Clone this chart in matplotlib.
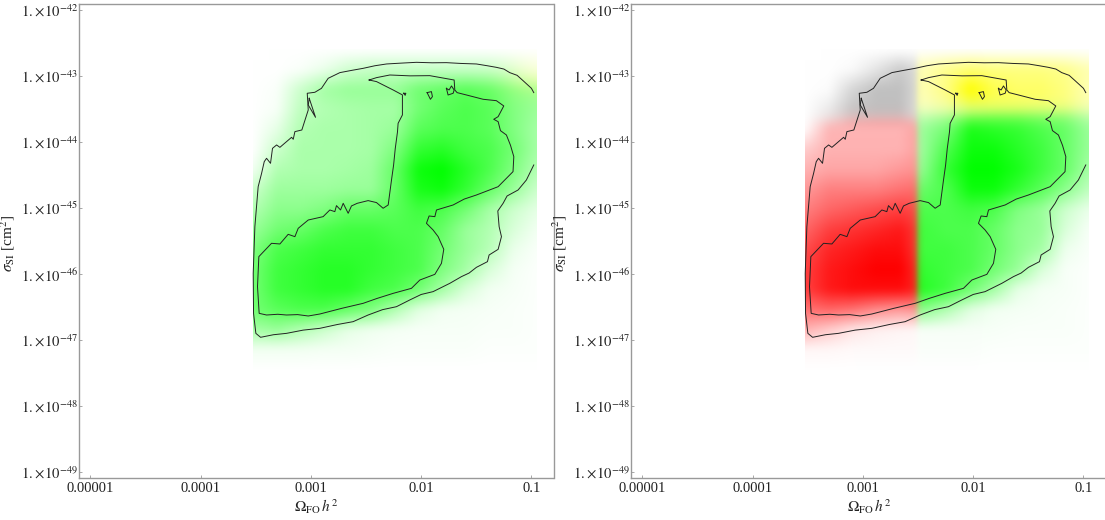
import numpy as np
import matplotlib
matplotlib.use('Agg')
import matplotlib.pyplot as plt

plt.rcParams['font.family'] = ['Liberation Serif', 'DejaVu Serif']
plt.rcParams['mathtext.fontset'] = 'stix'

# everything is in log10 units, the ticks get labelled by hand
x_ticks = [-5, -4, -3, -2, -1]
x_labels = ['0.00001', '0.0001', '0.001', '0.01', '0.1']
y_ticks = [-42, -43, -44, -45, -46, -47, -48, -49]
y_labels = [r'$1.\!\times\!10^{%d}$' % v for v in y_ticks]

# density on a coarse grid, top row first
grid_x = np.linspace(-3.523, -0.955, 13)
grid_y = np.linspace(-42.606, -47.454, 17)

density_left = np.array([
    [0, 0, 0, 0, 0, 0, 0, 0, 0, 0, 0, 0, 0],
    [0, 0, .02, .08, .18, .22, .22, .22, .22, .22, .22, .2, .15],
    [0, .02, .2, .35, .4, .4, .4, .55, .6, .65, .6, .5, .45],
    [0, .03, .25, .3, .33, .35, .35, .55, .65, .7, .65, .5, .4],
    [0, .1, .3, .33, .33, .35, .4, .65, .7, .7, .65, .5, .35],
    [0, .2, .33, .33, .33, .35, .5, .8, .85, .75, .7, .55, .35],
    [.05, .3, .33, .33, .35, .38, .6, .95, 1, .85, .7, .5, .3],
    [.2, .38, .38, .38, .4, .4, .6, .9, .95, .8, .6, .4, .2],
    [.3, .45, .45, .5, .6, .6, .65, .75, .7, .55, .35, .2, .1],
    [.4, .55, .6, .7, .75, .75, .7, .7, .6, .4, .3, .15, .05],
    [.5, .7, .75, .8, .8, .8, .75, .7, .55, .4, .28, .08, .02],
    [.55, .75, .8, .85, .85, .8, .75, .7, .5, .35, .15, .04, .01],
    [.55, .75, .8, .85, .85, .75, .7, .55, .35, .15, .05, .03, .01],
    [.55, .65, .7, .7, .6, .5, .3, .12, .05, .04, .03, .02, .01],
    [.35, .4, .3, .2, .1, .06, .04, .03, .03, .03, .02, .02, .01],
    [.05, .05, .05, .04, .04, .03, .02, .02, .02, .02, .01, .01, .01],
    [0, 0, 0, 0, 0, 0, 0, 0, 0, 0, 0, 0, 0],
])

density_right = np.array([
    [0, 0, 0, 0, 0, 0, 0, 0, 0, 0, 0, 0, 0],
    [0, 0, .05, .25, .5, .3, .45, .55, .5, .5, .5, .45, .3],
    [0, .03, .4, .6, .6, .3, .5, 1, .7, .6, .6, .5, .3],
    [0, .2, .55, .6, .6, .25, .35, .55, .6, .6, .55, .5, .3],
    [.02, .3, .3, .3, .3, .4, .55, .9, .85, .8, .7, .6, .4],
    [.2, .3, .3, .3, .3, .4, .7, .95, .95, .85, .75, .6, .4],
    [.3, .35, .35, .35, .4, .45, .8, 1, 1, .9, .75, .6, .35],
    [.4, .5, .5, .5, .55, .6, .7, .95, .95, .8, .65, .45, .25],
    [.5, .6, .65, .7, .75, .7, .7, .75, .7, .5, .4, .2, .08],
    [.6, .75, .8, .85, .9, .75, .7, .7, .6, .45, .4, .15, .03],
    [.7, .85, .9, .95, .95, .75, .75, .7, .6, .45, .35, .07, .02],
    [.75, .9, .95, 1, 1, .8, .75, .7, .55, .4, .15, .03, .01],
    [.75, .9, .95, .95, .95, .85, .75, .55, .35, .1, .04, .03, .01],
    [.55, .6, .55, .45, .4, .45, .3, .12, .05, .04, .03, .02, .01],
    [.3, .2, .1, .06, .04, .03, .03, .03, .03, .02, .02, .02, .01],
    [.03, .03, .02, .02, .02, .02, .02, .02, .01, .01, .01, .01, .01],
    [0, 0, 0, 0, 0, 0, 0, 0, 0, 0, 0, 0, 0],
])

# where the colours change
split_x = -2.507
split_y_left = -43.68
split_y_right = -43.56
corner_x = -1.15
corner_y = -43.15

red = np.array([1, 0, 0])
green = np.array([0, 1, 0])
yellow = np.array([1, 1, 0])
grey = np.array([.59, .59, .59])

outer_x = [-0.979, -1.046, -1.121, -1.221, -1.257, -1.305, -1.293, -1.272, -1.302, -1.384, -1.399,
           -1.499, -1.565, -1.635, -1.740, -1.892, -2.000, -2.103, -2.224, -2.350, -2.481, -2.617, -2.760, -2.919, -3.070, -3.221, -3.340, -3.456,
           -3.499, -3.520, -3.523, -3.508, -3.478, -3.447, -3.423, -3.402, -3.366, -3.348, -3.311,
           -3.281, -3.175, -3.160, -3.145, -3.082, -3.024, -3.033, -2.964, -2.904, -2.843, -2.737,
           -2.630, -2.526, -2.420, -2.314, -2.180, -2.043, -1.900, -1.771, -1.640, -1.499, -1.400, -1.318, -1.250, -1.197, -1.130, -1.076, -1.000, -0.979]
outer_y = [-44.348, -44.576, -44.727, -44.818, -44.929, -45.045, -45.283, -45.434, -45.626, -45.712, -45.813,
           -45.899, -45.985, -46.040, -46.141, -46.267, -46.310, -46.393, -46.495, -46.540, -46.621, -46.722, -46.765, -46.823, -46.850, -46.899, -46.920, -46.959,
           -46.899, -46.596, -45.990, -45.283, -44.677, -44.475, -44.298, -44.247, -44.323, -44.096, -44.045,
           -44.081, -43.929, -43.959, -43.843, -43.818, -43.515, -43.262, -43.247, -43.187, -43.035, -42.949,
           -42.915, -42.884, -42.845, -42.818, -42.805, -42.793, -42.800, -42.798, -42.810, -42.818, -42.845, -42.869, -42.895, -42.949, -42.990, -43.071, -43.187, -43.252]

inner_x = [-2.472, -2.405, -2.284, -2.100, -1.922, -1.701, -1.695, -1.674, -1.589, -1.438, -1.318, -1.251, -1.302,
           -1.342, -1.302, -1.281, -1.227, -1.190, -1.160, -1.167, -1.302, -1.499, -1.610, -1.710, -1.861, -1.876, -1.928,
           -1.952, -1.892, -1.846, -1.795, -1.816, -1.876, -2.012, -2.088, -2.254, -2.400, -2.526, -2.720, -2.919, -3.024,
           -3.120, -3.221, -3.300, -3.402, -3.469, -3.484, -3.472, -3.357, -3.281, -3.206, -3.145, -3.115, -3.024, -2.889,
           -2.828, -2.783, -2.768, -2.731, -2.707, -2.662, -2.632, -2.580, -2.481, -2.405, -2.345, -2.299,
           -2.269, -2.250, -2.235, -2.215, -2.209, -2.170, -2.170, -2.254, -2.405, -2.472]
inner_y = [-43.061, -43.025, -42.985, -42.998, -42.995, -43.061, -43.212, -43.252, -43.288, -43.353, -43.374, -43.454, -43.616,
           -43.656, -43.692, -43.828, -43.894, -44.050, -44.222, -44.449, -44.677, -44.803, -44.865, -44.954, -45.030, -45.131, -45.121,
           -45.232, -45.333, -45.434, -45.626, -45.838, -46.005, -46.091, -46.217, -46.293, -46.370, -46.444, -46.520, -46.606, -46.636,
           -46.615, -46.621, -46.610, -46.621, -46.596, -46.192, -45.737, -45.535, -45.545, -45.399, -45.434, -45.308, -45.182, -45.131,
           -45.030, -45.055, -44.964, -45.030, -44.929, -45.080, -44.969, -44.929, -44.888, -44.918, -45.004, -44.954,
           -44.576, -44.350, -44.100, -43.850, -43.717, -43.590, -43.287, -43.212, -43.085, -43.061]

sliver_x = [-3.015, -2.958, -3.024, -3.015]
sliver_y = [-43.338, -43.626, -43.439, -43.338]
loop1_x = [-1.946, -1.907, -1.898, -1.916, -1.946]
loop1_y = [-43.252, -43.237, -43.313, -43.353, -43.252]
loop2_x = [-1.771, -1.747, -1.725, -1.701, -1.710, -1.756, -1.771]
loop2_y = [-43.187, -43.212, -43.151, -43.212, -43.262, -43.288, -43.187]
loop3_x = [-2.160, -2.139, -2.145, -2.160]
loop3_y = [-43.262, -43.262, -43.293, -43.262]


def upsample(grid):
    # smooth the coarse table so it looks like the blurred density plot
    fx = np.linspace(grid_x[0], grid_x[-1], 400)
    fy = np.linspace(grid_y[0], grid_y[-1], 400)
    rows = np.array([np.interp(fx, grid_x, r) for r in grid])
    fine = np.array([np.interp(-fy, -grid_y, c) for c in rows.T]).T
    k = np.hanning(25)
    k = k / k.sum()
    for axis in (0, 1):
        pad = [(0, 0), (0, 0)]
        pad[axis] = (12, 12)
        tmp = np.pad(fine, pad, mode='edge')
        fine = np.apply_along_axis(lambda v: np.convolve(v, k, mode='valid'), axis, tmp)
    X, Y = np.meshgrid(fx, fy)
    return fine, X, Y


def step(v, width):
    return (np.tanh(v / width) + 1) / 2


def left_image():
    sat, X, Y = upsample(density_left)
    w = (step(X - corner_x, .2) * step(Y - corner_y, .25))[..., None]
    col = w * yellow + (1 - w) * green
    return 1 - sat[..., None] * (1 - col)


def right_image():
    sat, X, Y = upsample(density_right)
    wx = step(X - split_x, .035)[..., None]
    low = (1 - step(Y - split_y_left, .12))[..., None]
    top = step(Y - split_y_right, .14)[..., None]
    col = (1 - wx) * (low * red + (1 - low) * grey) + wx * (top * yellow + (1 - top) * green)
    return 1 - sat[..., None] * (1 - col)


def draw_panel(ax, img, x_right):
    ax.imshow(np.clip(img, 0, 1), extent=[grid_x[0], grid_x[-1], grid_y[-1], grid_y[0]],
              aspect='auto', interpolation='bilinear', zorder=1)
    for xs, ys in [(outer_x, outer_y), (inner_x, inner_y), (sliver_x, sliver_y),
                   (loop1_x, loop1_y), (loop2_x, loop2_y), (loop3_x, loop3_y)]:
        ax.plot(xs, ys, color='#222222', lw=0.7, zorder=2)
    ax.set_xlim(-5.1, x_right)
    ax.set_ylim(-49.095, -41.914)
    ax.set_xticks(x_ticks)
    ax.set_xticklabels(x_labels)
    ax.set_yticks(y_ticks)
    ax.set_yticklabels(y_labels)
    ax.tick_params(direction='in', length=2, width=0.6, color='#999999', labelsize=10.5,
                   labelcolor='#222222', pad=1)
    ax.tick_params(axis='x', pad=3)
    for s in ax.spines.values():
        s.set_color('#999999')
        s.set_linewidth(1.0)
    ax.set_xlabel(r'$\Omega_{\rm FO}\,h^2$', fontsize=11, labelpad=1, color='#222222')
    ax.set_ylabel(r'$\sigma_{\rm SI}$ [cm$^2$]', fontsize=11, color='#222222')


W, H = 1105, 520
fig = plt.figure(figsize=(W / 100, H / 100), dpi=100)
ax1 = fig.add_axes([79.3 / W, 41.7 / H, 474.2 / W, 474 / H])
# right frame runs just past the edge of the picture
ax2 = fig.add_axes([631.3 / W, 41.7 / H, 476.2 / W, 474 / H])
draw_panel(ax1, left_image(), -0.8)
draw_panel(ax2, right_image(), -0.782)
ax1.yaxis.set_label_coords(-0.131, 0.495)
ax2.yaxis.set_label_coords(-0.131 * 474.2 / 476.2, 0.495)
fig.savefig('out.png', dpi=100)
